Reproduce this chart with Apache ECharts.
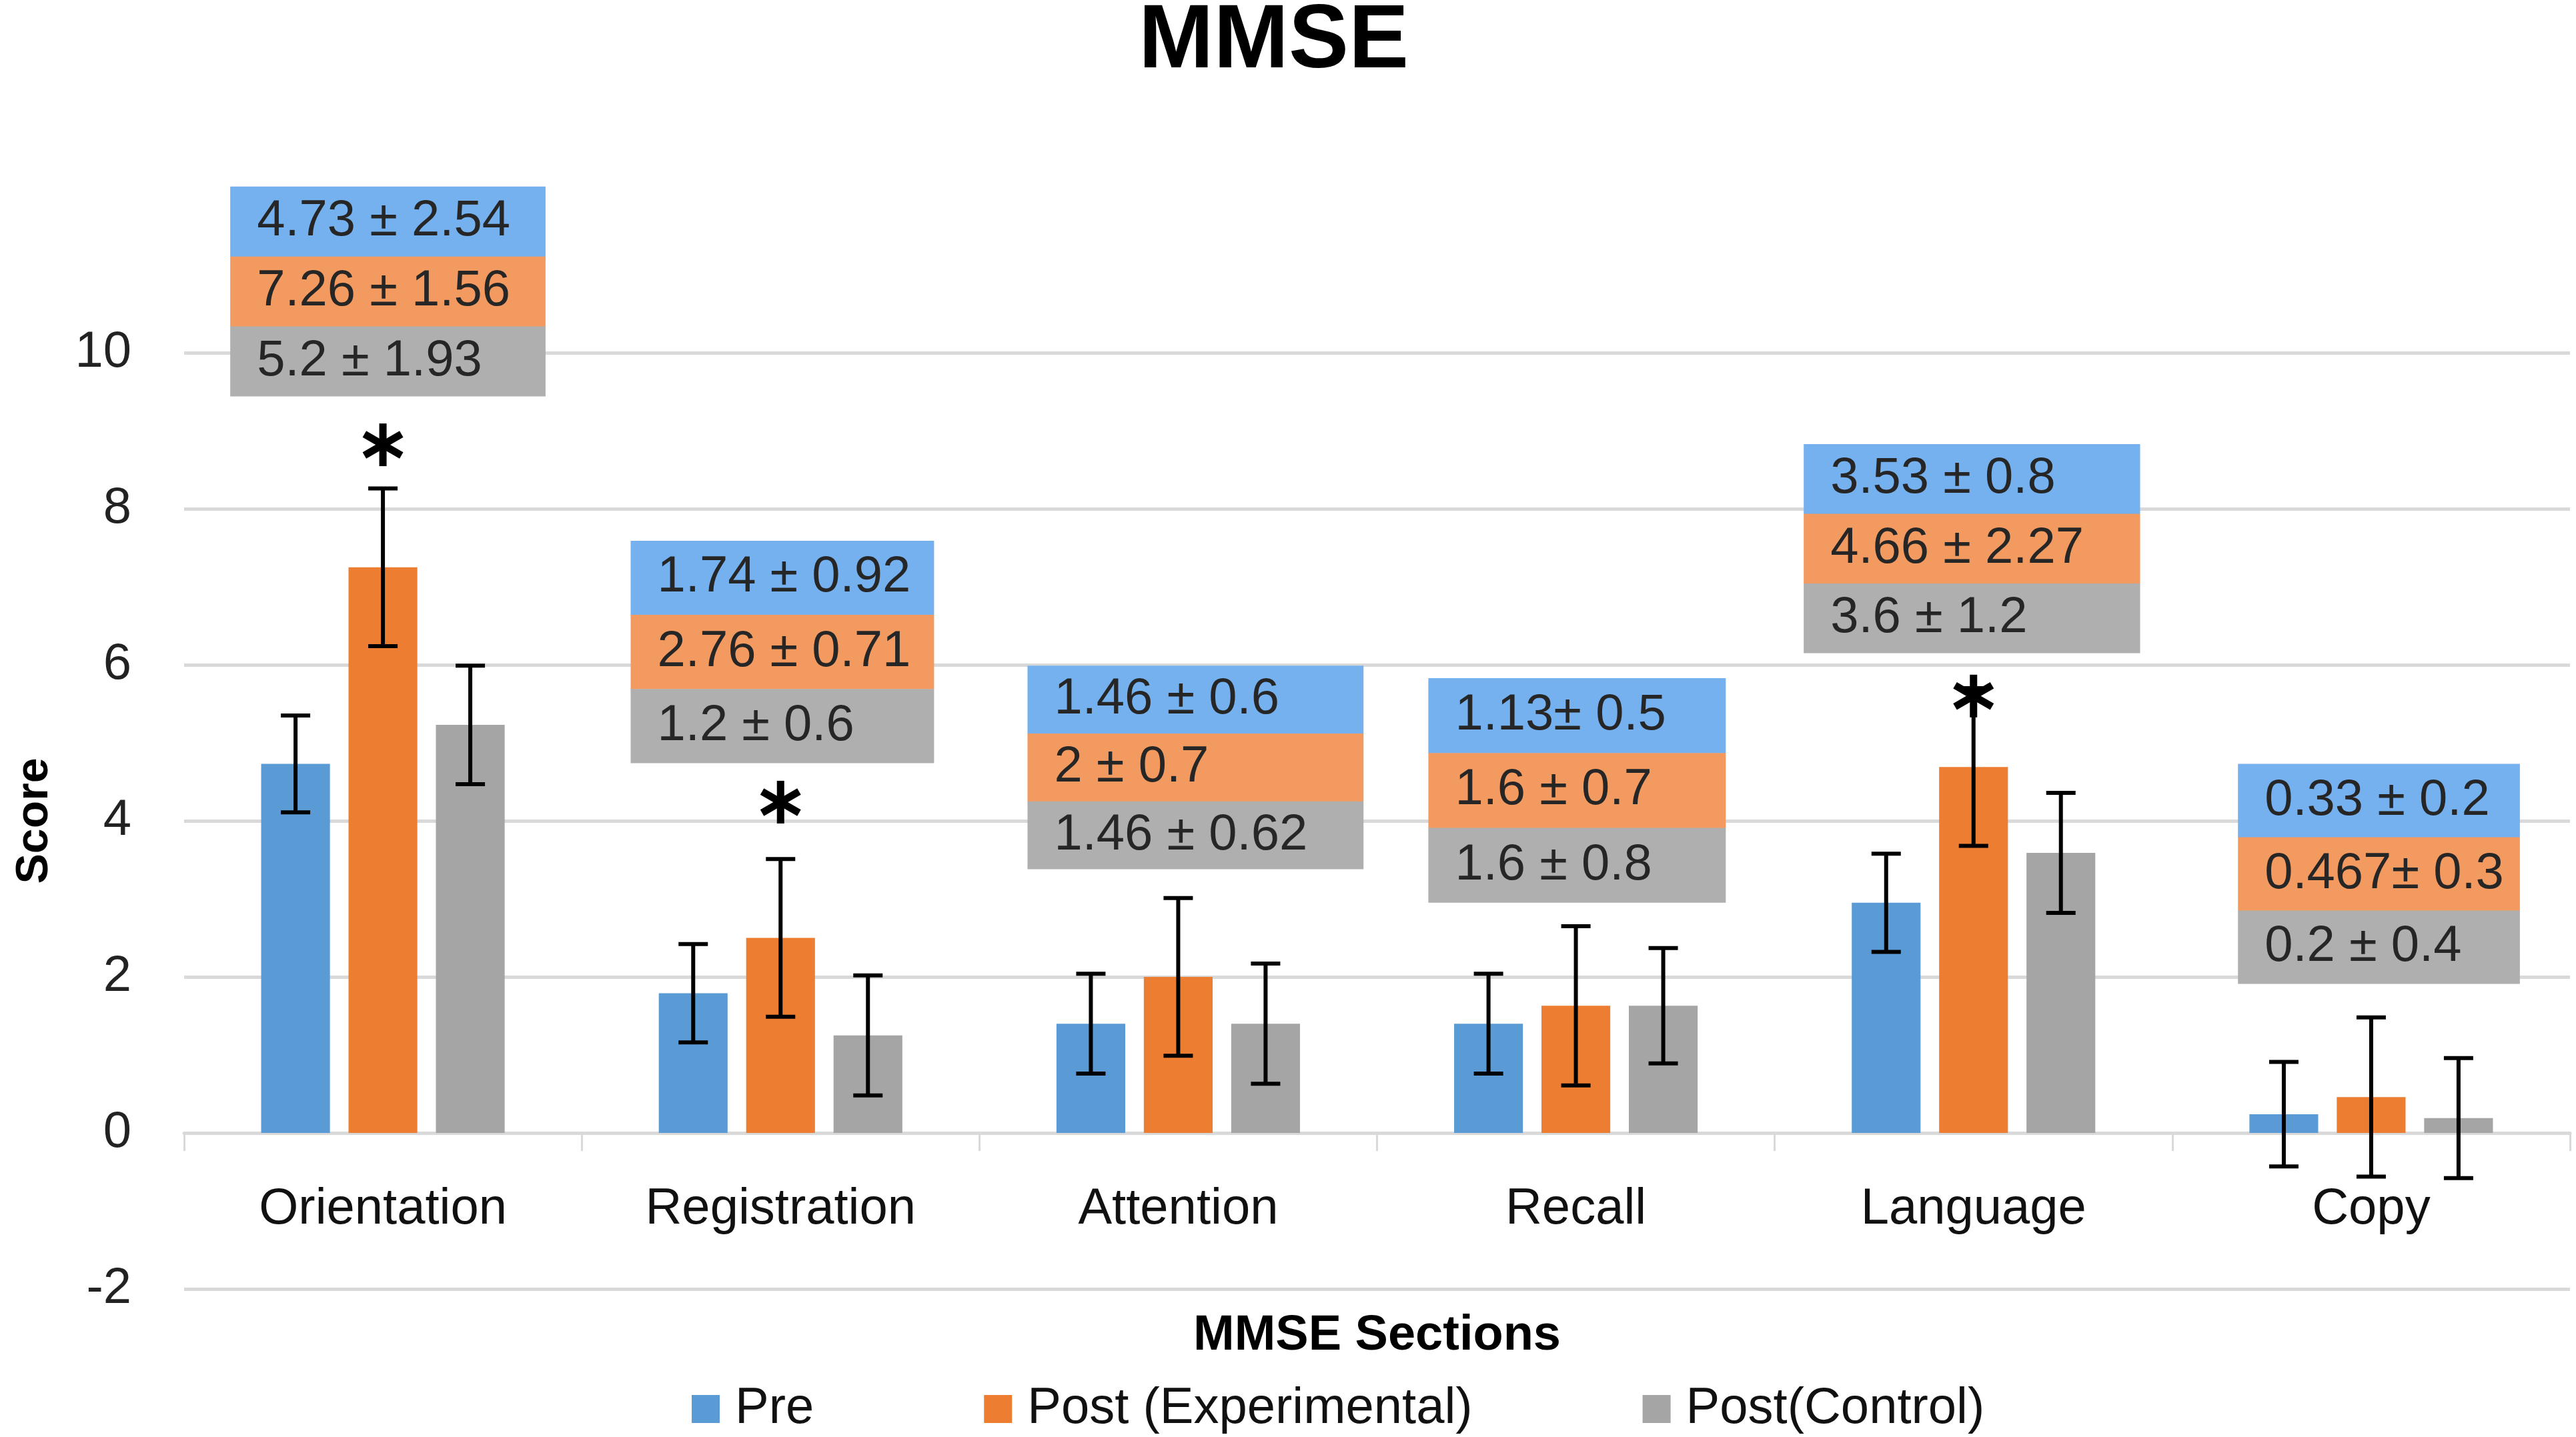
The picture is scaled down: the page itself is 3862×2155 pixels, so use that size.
<!DOCTYPE html>
<html>
<head>
<meta charset="utf-8">
<script src="https://cdn.jsdelivr.net/npm/echarts@6/dist/echarts.min.js"></script>
<style>
  html, body { margin: 0; padding: 0; background: #fff; }
  #chart { width: 3862px; height: 2155px; }
</style>
</head>
<body>
<div id="chart"></div>
<script>
// MMSE section scores, pre / post for both groups
const categories = ['Orientation', 'Registration', 'Attention', 'Recall', 'Language', 'Copy'];
const seriesNames = ['Pre', 'Post (Experimental)', 'Post(Control)'];

// bar heights and error bar half-widths
const preValues  = [4.73, 1.79, 1.40, 1.40, 2.95, 0.24];
const expValues  = [7.25, 2.50, 2.00, 1.63, 4.69, 0.46];
const ctrlValues = [5.23, 1.25, 1.40, 1.63, 3.59, 0.19];
const preErrors  = [0.62, 0.63, 0.64, 0.64, 0.63, 0.67];
const expErrors  = [1.01, 1.01, 1.01, 1.02, 1.01, 1.02];
const ctrlErrors = [0.76, 0.77, 0.77, 0.74, 0.77, 0.77];

// mean ± sd text shown in the boxes
const preStats  = ['4.73 ± 2.54', '1.74 ± 0.92', '1.46 ± 0.6', '1.13± 0.5', '3.53 ± 0.8', '0.33 ± 0.2'];
const expStats  = ['7.26 ± 1.56', '2.76 ± 0.71', '2 ± 0.7', '1.6 ± 0.7', '4.66 ± 2.27', '0.467± 0.3'];
const ctrlStats = ['5.2 ± 1.93', '1.2 ± 0.6', '1.46 ± 0.62', '1.6 ± 0.8', '3.6 ± 1.2', '0.2 ± 0.4'];

// significance marks (category index, score level of the asterisk)
const starCategories = [0, 1, 4];
const starValues = [8.82, 4.24, 5.60];

// y axis
const yMin = -2, yMax = 10, yStep = 2;

// where the stat boxes sit: top/bottom in score units, left/right in category widths
const boxTop    = [12.13, 7.59, 5.99, 5.83, 8.83, 4.73];
const boxBottom = [9.44, 4.74, 3.38, 2.95, 6.15, 1.91];
const boxLeft   = [-0.384, -0.377, -0.379, -0.371, -0.427, -0.335];
const boxRight  = [0.409, 0.386, 0.466, 0.377, 0.419, 0.374];

const FONT = 'Liberation Sans, Arial, sans-serif';
const barColors = ['#5b9bd5', '#ed7d31', '#a5a5a5'];
const boxColors = ['#75b1ef', '#f29a60', '#afafaf'];
const BAR_W = 0.173;   // bar width as part of category band
const BAR_GAP = 0.27;  // gap between bars as part of bar width

function groupOffset(k, band) {
  const w = band * BAR_W;
  return (k - 1) * (w + w * BAR_GAP);
}

function barSeries(k, values) {
  return {
    name: seriesNames[k],
    type: 'bar',
    data: values,
    barWidth: (BAR_W * 100) + '%',
    barGap: (BAR_GAP * 100) + '%',
    itemStyle: { color: barColors[k] },
    z: 2
  };
}

function errorSeries(k, values, errors) {
  return {
    type: 'custom',
    z: 5,
    encode: { x: 0, y: 1 },
    data: values.map((v, i) => [i, v, errors[i]]),
    renderItem: function (params, api) {
      const i = api.value(0);
      const v = api.value(1);
      const e = api.value(2);
      const band = api.size([1, 0])[0];
      const x = api.coord([i, v])[0] + groupOffset(k, band);
      const hi = api.coord([i, v + e])[1];
      const lo = api.coord([i, v - e])[1];
      const cap = 22;
      const style = { stroke: '#000', lineWidth: 6 };
      return {
        type: 'group',
        children: [
          { type: 'line', shape: { x1: x, y1: hi, x2: x, y2: lo }, style: style },
          { type: 'line', shape: { x1: x - cap, y1: hi, x2: x + cap, y2: hi }, style: style },
          { type: 'line', shape: { x1: x - cap, y1: lo, x2: x + cap, y2: lo }, style: style }
        ]
      };
    }
  };
}

const boxSeries = {
  type: 'custom',
  z: 4,
  encode: { x: 0, y: 1 },
  data: categories.map((c, i) => [i, boxTop[i], boxBottom[i]]),
  renderItem: function (params, api) {
    const i = api.value(0);
    const band = api.size([1, 0])[0];
    const cx = api.coord([i, 0])[0];
    const y0 = api.coord([i, api.value(1)])[1];
    const y1 = api.coord([i, api.value(2)])[1];
    const x0 = cx + boxLeft[i] * band;
    const w = (boxRight[i] - boxLeft[i]) * band;
    const rowH = (y1 - y0) / 3;
    const texts = [preStats[i], expStats[i], ctrlStats[i]];
    const children = [];
    for (let r = 0; r < 3; r++) {
      children.push({
        type: 'rect',
        shape: { x: x0, y: y0 + r * rowH, width: w, height: rowH + (r < 2 ? 0.5 : 0) },
        style: { fill: boxColors[r] }
      });
      children.push({
        type: 'text',
        style: {
          text: texts[r],
          x: x0 + 40,
          y: y0 + (r + 0.5) * rowH,
          align: 'left',
          verticalAlign: 'middle',
          fill: '#262626',
          fontSize: 76,
          fontFamily: FONT
        }
      });
    }
    return { type: 'group', children: children };
  }
};

const starSeries = {
  type: 'custom',
  z: 6,
  encode: { x: 0, y: 1 },
  data: starCategories.map((c, j) => [c, starValues[j]]),
  renderItem: function (params, api) {
    const i = api.value(0);
    const band = api.size([1, 0])[0];
    const p = api.coord([i, api.value(1)]);
    const x = p[0] + groupOffset(1, band);
    const y = p[1];
    const r = 32;
    const style = { stroke: '#000', lineWidth: 11 };
    const children = [];
    [90, 30, -30].forEach(function (a) {
      const dx = r * Math.cos(a * Math.PI / 180);
      const dy = r * Math.sin(a * Math.PI / 180);
      children.push({ type: 'line', shape: { x1: x - dx, y1: y - dy, x2: x + dx, y2: y + dy }, style: style });
    });
    return { type: 'group', children: children };
  }
};

const chart = echarts.init(document.getElementById('chart'));
chart.setOption({
  backgroundColor: '#fff',
  animation: false,
  title: {
    text: 'MMSE',
    left: 1707,
    top: -4,
    padding: 0,
    textStyle: { fontSize: 135, fontWeight: 'bold', color: '#000', fontFamily: FONT }
  },
  legend: {
    data: seriesNames,
    left: 1037,
    top: 2075,
    padding: 0,
    icon: 'rect',
    itemWidth: 42,
    itemHeight: 42,
    itemGap: 255,
    selectedMode: false,
    textStyle: { fontSize: 76, color: '#111', fontFamily: FONT, padding: [0, 0, 0, 18] }
  },
  grid: { left: 276, right: 9, top: 529, bottom: 222, containLabel: false, outerBoundsMode: 'none' },
  xAxis: {
    type: 'category',
    data: categories,
    name: 'MMSE Sections',
    nameLocation: 'middle',
    nameGap: 34,
    nameMoveOverlap: false,
    nameTextStyle: { fontSize: 74, fontWeight: 'bold', color: '#000', fontFamily: FONT },
    axisLine: { onZero: true, lineStyle: { color: '#d9d9d9', width: 5 } },
    axisTick: { show: true, length: 27, lineStyle: { color: '#d9d9d9', width: 3 } },
    axisLabel: { fontSize: 76, color: '#111', fontFamily: FONT, margin: -157 },
    splitLine: { show: false }
  },
  yAxis: {
    type: 'value',
    min: yMin,
    max: yMax,
    interval: yStep,
    name: 'Score',
    nameLocation: 'middle',
    nameGap: 190,
    nameTextStyle: { fontSize: 68, fontWeight: 'bold', color: '#000', fontFamily: FONT },
    axisLine: { show: false },
    axisTick: { show: false },
    axisLabel: { fontSize: 76, color: '#222', fontFamily: FONT, margin: 79 },
    splitLine: { lineStyle: { color: '#d9d9d9', width: 5 } }
  },
  series: [
    barSeries(0, preValues),
    barSeries(1, expValues),
    barSeries(2, ctrlValues),
    errorSeries(0, preValues, preErrors),
    errorSeries(1, expValues, expErrors),
    errorSeries(2, ctrlValues, ctrlErrors),
    boxSeries,
    starSeries
  ]
});
</script>
</body>
</html>
